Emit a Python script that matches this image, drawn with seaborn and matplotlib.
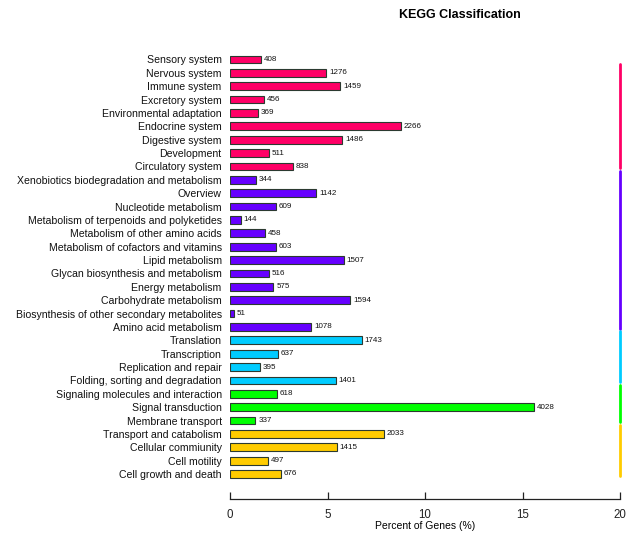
import matplotlib
matplotlib.use("Agg")
import matplotlib.pyplot as plt
import seaborn as sns
import pandas as pd

# KEGG pathway categories (top to bottom) and gene counts
categories = [
    "Sensory system", "Nervous system", "Immune system", "Excretory system",
    "Environmental adaptation", "Endocrine system", "Digestive system",
    "Development", "Circulatory system",
    "Xenobiotics biodegradation and metabolism", "Overview",
    "Nucleotide metabolism", "Metabolism of terpenoids and polyketides",
    "Metabolism of other amino acids", "Metabolism of cofactors and vitamins",
    "Lipid metabolism", "Glycan biosynthesis and metabolism",
    "Energy metabolism", "Carbohydrate metabolism",
    "Biosynthesis of other secondary metabolites", "Amino acid metabolism",
    "Translation", "Transcription", "Replication and repair",
    "Folding, sorting and degradation",
    "Signaling molecules and interaction", "Signal transduction",
    "Membrane transport",
    "Transport and catabolism", "Cellular commiunity", "Cell motility",
    "Cell growth and death",
]
gene_counts = [
    408, 1276, 1459, 456, 369, 2266, 1486, 511, 838,
    344, 1142, 609, 144, 458, 603, 1507, 516, 575, 1594, 51, 1078,
    1743, 637, 395, 1401,
    618, 4028, 337,
    2033, 1415, 497, 676,
]
groups = (["Organismal Systems"] * 9 + ["Metabolism"] * 12 +
          ["Genetic Information Processing"] * 4 +
          ["Environmental Information Processing"] * 3 +
          ["Cellular Processes"] * 4)
group_order = ["Organismal Systems", "Metabolism",
               "Genetic Information Processing",
               "Environmental Information Processing", "Cellular Processes"]
group_colors = ["#FF0066", "#6600FF", "#00CCFF", "#00FF00", "#FFCC00"]
total_genes = 25800

df = pd.DataFrame({"category": categories, "count": gene_counts, "group": groups})
df["percent"] = df["count"] / total_genes * 100

plt.rcParams["font.family"] = ["Liberation Sans", "DejaVu Sans"]

fig = plt.figure(figsize=(6.32, 5.33), dpi=100)
ax = fig.add_axes([230 / 632, 34 / 533, 390 / 632, 449 / 533])

palette = dict(zip(group_order, group_colors))
sns.barplot(data=df, x="percent", y="category", hue="group", palette=palette,
            hue_order=group_order, dodge=False, width=0.58, orient="h",
            saturation=1, edgecolor="#2b3a30", linewidth=0.8, legend=False,
            ax=ax)

ax.set_xlim(0, 20)
ax.set_ylim(32.87, -0.71)

# count annotations at the end of each bar
for i, (p, c) in enumerate(zip(df["percent"], df["count"])):
    ax.annotate(str(c), xy=(p, i), xytext=(2, 0), textcoords="offset points",
                va="center", ha="left", fontsize=5.8, color="#111111")

# coloured brackets marking each top-level group
idx = 0
for g, col in zip(group_order, group_colors):
    n = groups.count(g)
    start, end = idx, idx + n - 1
    y0 = max(start - 0.66, 0.35)
    y1 = end + 0.12
    ax.plot([20, 20], [y0, y1], color=col, lw=2.0, clip_on=False,
            solid_capstyle="round")
    idx += n

for s in ["top", "right", "left"]:
    ax.spines[s].set_visible(False)
ax.spines["bottom"].set_linewidth(0.9)
ax.spines["bottom"].set_color("#222222")
ax.set_xticks([0, 5, 10, 15, 20])
ax.tick_params(axis="x", direction="in", length=5, width=0.9, pad=7,
               labelsize=8.3, colors="#222222")
ax.tick_params(axis="y", length=0, pad=6, labelsize=7.6)
for t in ax.get_yticklabels():
    t.set_color("#111111")
ax.set_ylabel("")
ax.set_xlabel("Percent of Genes (%)", fontsize=7.5, labelpad=0)

fig.text(460 / 632, 1 - 15 / 533, "KEGG Classification", ha="center",
         va="center", fontsize=9, fontweight="bold")

fig.savefig("out.png", dpi=100)
